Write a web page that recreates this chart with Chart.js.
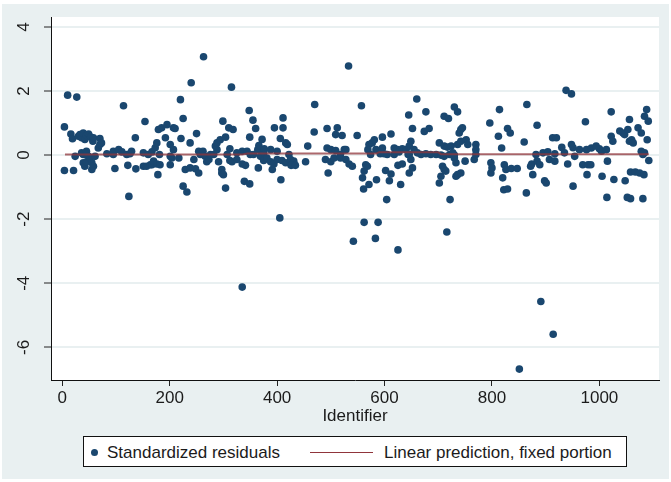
<!DOCTYPE html>
<html>
<head>
<meta charset="utf-8">
<script src="https://cdn.jsdelivr.net/npm/chart.js@4.4.0/dist/chart.umd.min.js"></script>
<style>
  html, body { margin: 0; padding: 0; background: #fff; }
  #wrap { position: relative; width: 671px; height: 482px; font-family: "Liberation Sans", Arial, sans-serif; color: #1b1b1b; }
  #bg { position: absolute; left: 2px; top: 4px; width: 667px; height: 475px; background: #e9f0f1; }
  #chart { position: absolute; left: 0; top: 0; }
  #legend { position: absolute; left: 83px; top: 436px; width: 544px; height: 31px; box-sizing: border-box;
            border: 1px solid #111; background: #fff; }
  #legend .mk { position: absolute; left: 7px; top: 12px; width: 7px; height: 7px; border-radius: 50%; background: #1a476f; }
  #legend .ln { position: absolute; left: 226px; top: 15px; width: 63px; height: 1.4px; background: #90353b; }
  #legend .tx { position: absolute; top: 6px; font-size: 17px; line-height: 20px; white-space: nowrap; }
</style>
</head>
<body>
<div id="wrap">
  <div id="bg"></div>
  <canvas id="chart" width="671" height="482"></canvas>
  <div id="legend">
    <span class="mk"></span><span class="tx" style="left:23px">Standardized residuals</span>
    <span class="ln"></span><span class="tx" style="left:300px">Linear prediction, fixed portion</span>
  </div>
</div>
<script>
// residuals by identifier
const ids = [
  4, 4, 10, 16, 19, 21, 24, 27, 30, 33,
  36, 36, 39, 39, 39, 42, 42, 45, 45, 45,
  49, 49, 52, 53, 55, 55, 57, 58, 58, 61,
  67, 70, 70, 73, 83, 95, 95, 98, 105, 111,
  114, 120, 122, 124, 126, 129, 136, 137, 151, 151,
  154, 157, 160, 164, 167, 167, 170, 173, 176, 176,
  178, 179, 181, 182, 185, 192, 195, 201, 204, 207,
  201, 201, 207, 210, 217, 220, 221, 225, 225, 229,
  232, 238, 238, 240, 245, 248, 250, 254, 254, 257,
  262, 263, 266, 269, 273, 276, 282, 285, 288, 288,
  291, 294, 297, 297, 299, 300, 304, 304, 307, 310,
  312, 312, 315, 316, 318, 325, 325, 335, 335, 335,
  339, 341, 344, 348, 349, 349, 350, 355, 356, 360,
  364, 365, 366, 369, 372, 375, 375, 376, 381, 388,
  388, 391, 394, 395, 400, 400, 405, 406, 407, 409,
  411, 411, 416, 416, 419, 422, 425, 426, 431, 428,
  434, 453, 457, 469, 470, 490, 493, 493, 495, 500,
  500, 506, 509, 509, 512, 518, 518, 521, 525, 528,
  528, 533, 534, 540, 542, 549, 557, 559, 561, 562,
  562, 565, 568, 569, 571, 571, 574, 577, 581, 583,
  584, 585, 588, 592, 596, 596, 599, 602, 604, 605,
  609, 612, 612, 618, 618, 624, 625, 625, 627, 630,
  633, 633, 640, 644, 645, 646, 646, 646, 649, 649,
  652, 652,
  655, 660, 661, 668, 674, 677, 677, 683, 686, 696,
  702, 702, 705, 705, 708, 711, 711, 711, 711, 714,
  716, 717, 719, 721, 722, 724, 727, 730, 730, 730,
  733, 733, 736, 736, 736, 739, 742, 742, 742, 745,
  750, 752, 755, 767, 770, 770, 770, 796, 798, 798,
  800, 812, 814, 818, 820, 822, 823, 826, 829, 829,
  834, 836, 847, 851, 860, 864, 865, 872, 874, 876,
  882, 884, 884, 889, 891, 895, 898, 901, 904, 907,
  913, 914, 917, 917, 920, 930, 935, 938, 941, 948,
  948, 951, 951, 954, 963, 969, 974, 976, 977, 979,
  984, 985, 994, 1000, 1004, 1005, 1013, 1014, 1015, 1022,
  1022, 1025, 1027, 1038, 1044, 1047, 1048, 1052, 1053, 1056,
  1056, 1058, 1058, 1060, 1063, 1067, 1072, 1075, 1078, 1078,
  1081, 1081, 1083, 1084, 1084, 1088, 1089, 1091, 1092
];
const residuals = [
  0.88, -0.48, 1.87, 0.66, 0.51, -0.48, -0.04, 1.81, 0.59, 0.64,
  0.07, 0.54, 0.69, -0.24, 0.02, 0.49, -0.35, 0.61, 0.12, -0.21,
  0.66, -0.04, -0.09, 0.56, -0.45, -0.24, 0.43, -0.35, 0.54, -0.04,
  0.22, 0.52, 0.33, 0.38, 0.04, 0.02, 0.12, -0.42, 0.17, 0.1,
  1.54, 0.02, -0.32, -1.29, 0.04, 0.12, 0.54, -0.43, 0.07, -0.35,
  1.05, -0.35, 0.02, -0.3, 0.1, -0.3, -0.19, 0.23, 0.38, -0.28,
  -0.61, 0.8, 0.02, -0.3, 0.85, 0.54, 0.95, -0.3, -0.09, 0.85,
  -0.04, 0.33, 0.17, 0.83, -0.09, 1.73, 0.52, 1.14, -0.97, -0.45,
  -1.15, 0.38, -0.4, 2.26, -0.14, -0.43, 0.67, 0.12, -0.56, 0.02,
  0.12, 3.07, -0.04, -0.21, -0.14, 0.02, 0.02, 0.28, 0.38, 0.17,
  -0.21, 0.48, -0.45, -0.56, 1.06, -0.61, 0.56, -1.03, 0.02, 0.85,
  0.2, -0.17, 2.12, -0.21, 0.8, 0.07, -0.14, 0.12, -0.28, -4.12,
  -0.82, -0.32, 0.12, 1.39, 0.56, -0.9, 0.02, 1.09, 0.02, 0.83,
  0.17, -0.4, 0.3, -0.04, 0.49, -0.17, 0.07, 0.2, -0.09, -0.21,
  0.17, -0.45, -0.28, 0.85, 0.12, -0.14, -1.96, 0.52, -0.77, -0.17,
  1.16, 0.85, 0.38, -0.24, 0.33, 0.02, -0.14, -0.32, -0.19, -0.3,
  -0.32, -0.21, 0.28, 0.72, 1.58, -0.14, 0.83, 0.22, -0.56, 0.17,
  -0.21, -0.09, 0.64, 0.14, 0.85, 0.02, -0.09, 0.61, 0.17, -0.14,
  0.17, 2.78, -0.28, -0.35, -2.69, 0.61, 1.54, -0.71, -1.06, -0.5,
  -2.1, -0.3, -0.35, 0.17, -0.92, 0.33, 0.02, 0.38, 0.48, -2.6,
  0.17, -0.77, -2.1, 0.04, 0.56, 0.22, 0.04, -0.48, -1.39, 0.02,
  -0.8, 0.66, -0.59, 0.22, 0.02, 0.17, -0.32, -2.96, 0.1, -0.92,
  0.2, -0.28, 0.17, 0.02, 1.25, 0.28, 0.02, -0.56, 0.43, -0.14,
  0.83, -0.4,
  0.17, 1.75, 0.07, 0.02, 0.74, 1.35, 0.04, 0.83, 0.02, 0.02,
  0.38, -0.87, 0, -0.66, -0.35, 1.21, 0.28, -0.04, -0.45, -0.5,
  -2.4, 0.25, 1.14, 0.02, -1.39, 0.28, 0.07, 1.5, 0, -0.09,
  -0.24, -0.66, 1.35, 0.33, -0.61, 0.69, 0.8, 0.43, -0.56, 0.85,
  -0.19, 0.48, 0.33, -0.14, 0.33, 0.17, 0.02, 1.0, -0.24, -0.56,
  -0.4, 0.59, 1.42, 0.22, -0.71, -1.08, -0.3, -0.45, 0.83, -1.06,
  0.69, -0.42, -0.42, -6.68, 0.41, -1.18, 1.58, -0.35, -0.28, -0.61,
  0.02, 0.93, -0.19, -0.3, -4.57, 0.07, -0.8, -0.87, 0.1, -0.14,
  0.54, -5.59, 0.04, -0.19, 0.54, 0.24, 0.07, 2.02, -0.28, 1.91,
  0.33, 0.23, -0.97, -0.04, 0.17, -0.3, 1.04, 0.17, -0.61, -0.3,
  -0.3, 0.22, 0.28, 0.2, 0.12, -0.66, 0.17, -1.32, -0.19, 1.35,
  0.59, 0.43, -0.76, 0.75, 0.69, 0.64, -0.8, -1.32, 0.8, 1.11,
  0.43, -0.53, -1.36, 0.48, 0.38, -0.53, 0.85, -0.56, 0.69, 0.12,
  0.02, -1.36, -0.61, 1.21, 0.07, 1.42, 0.48, 1.06, -0.17
];

// linear prediction, fixed portion
const predX = [5, 335, 345, 585, 590, 700, 705, 1092];
const predY = [0.02, 0.02, 0.05, 0.05, 0.09, 0.09, 0.03, 0.03];

const xTicks = [0, 200, 400, 600, 800, 1000];
const yTicks = [-6, -4, -2, 0, 2, 4];

const navy = '#1a476f';
const fontFamily = '"Liberation Sans", Arial, sans-serif';

// white plot region
const plotBg = {
  id: 'plotBg',
  beforeDraw(chart) {
    const { ctx, chartArea: a } = chart;
    ctx.save();
    ctx.fillStyle = '#fff';
    ctx.fillRect(a.left, a.top, a.right - a.left, a.bottom - a.top);
    ctx.restore();
  }
};

// y tick labels turned 90 degrees, like the original
const yLabels = {
  id: 'yLabels',
  afterDraw(chart) {
    const s = chart.scales.y;
    const ctx = chart.ctx;
    ctx.save();
    ctx.fillStyle = '#1b1b1b';
    ctx.font = '17px ' + fontFamily;
    ctx.textAlign = 'center';
    ctx.textBaseline = 'middle';
    s.ticks.forEach(t => {
      const py = s.getPixelForValue(t.value);
      ctx.save();
      ctx.translate(24, py);
      ctx.rotate(-Math.PI / 2);
      ctx.fillText(String(t.value), 0, 0);
      ctx.restore();
    });
    ctx.restore();
  }
};

new Chart(document.getElementById('chart'), {
  data: {
    datasets: [
      {
        type: 'scatter',
        label: 'Standardized residuals',
        data: ids.map((x, i) => ({ x, y: residuals[i] })),
        backgroundColor: navy,
        borderColor: navy,
        borderWidth: 0,
        pointRadius: 3.8,
        order: 1
      },
      {
        type: 'line',
        label: 'Linear prediction, fixed portion',
        data: predX.map((x, i) => ({ x, y: predY[i] })),
        borderColor: 'rgba(144,53,59,0.75)',
        borderWidth: 2,
        pointRadius: 0,
        tension: 0,
        order: 0
      }
    ]
  },
  options: {
    responsive: false,
    animation: false,
    layout: { padding: { top: 17, right: 12, left: 0, bottom: 55 } },
    plugins: { legend: { display: false }, tooltip: { enabled: false } },
    scales: {
      x: {
        type: 'linear',
        min: -21,
        max: 1111,
        afterBuildTicks: s => { s.ticks = xTicks.map(v => ({ value: v })); },
        afterFit: s => { s.height = 47; },
        ticks: {
          autoSkip: false, maxRotation: 0, color: '#1b1b1b', padding: 2,
          font: { family: fontFamily, size: 17 },
          callback: v => String(v)
        },
        grid: { drawOnChartArea: false, drawTicks: true, tickLength: 6, tickColor: '#222' },
        border: { display: true, color: '#111', width: 1 },
        title: { display: true, text: 'Identifier', color: '#1b1b1b', padding: { top: 0, bottom: 0 }, font: { family: fontFamily, size: 17 } }
      },
      y: {
        type: 'linear',
        min: -7.02,
        max: 4.31,
        afterBuildTicks: s => { s.ticks = yTicks.map(v => ({ value: v })); },
        afterFit: s => { s.width = 51; },
        ticks: { display: false },
        grid: { color: '#e9f0f1', lineWidth: 2, drawTicks: true, tickLength: 7, tickColor: '#222', tickWidth: 1 },
        border: { display: true, color: '#111', width: 1 }
      }
    }
  },
  plugins: [plotBg, yLabels]
});
</script>
</body>
</html>
